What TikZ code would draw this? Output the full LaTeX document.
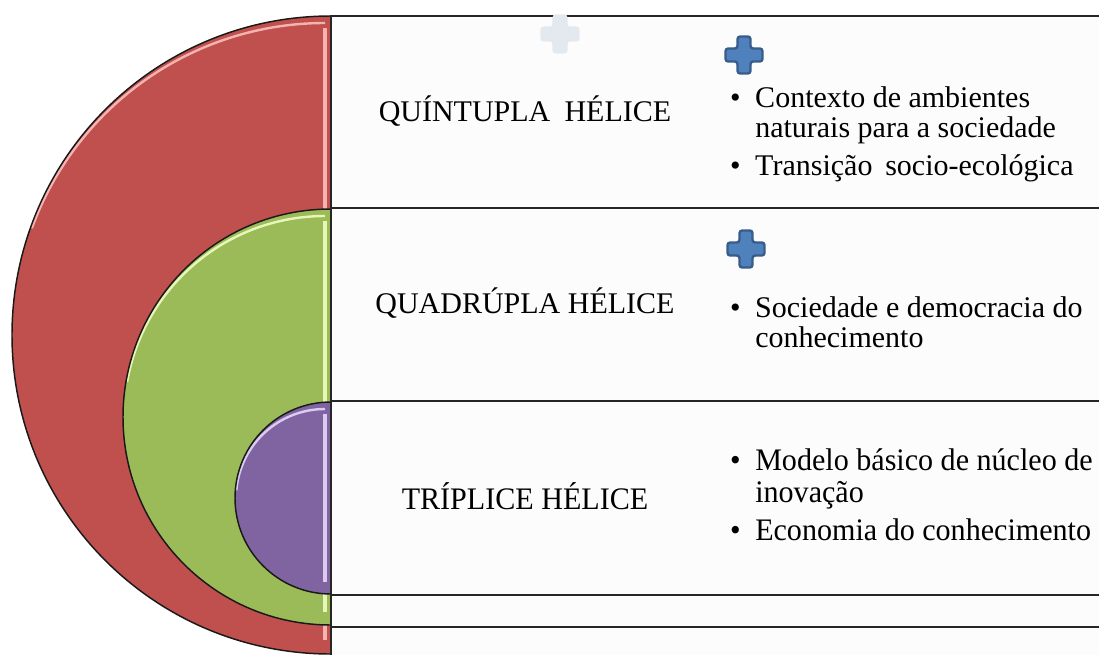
\documentclass[tikz,border=0pt]{standalone}
\usepackage{fontspec}
\setmainfont{Liberation Serif}
\newfontfamily\narrowserif[FakeStretch=0.96]{Liberation Serif}
\definecolor{helixred}{HTML}{C0504D}
\definecolor{helixgreen}{HTML}{9BBB59}
\definecolor{helixpurple}{HTML}{8064A2}
\definecolor{shinered}{HTML}{F4B3B1}
\definecolor{shinegreen}{HTML}{E6F7B8}
\definecolor{shinepurple}{HTML}{DCCBF0}
\definecolor{plusblue}{HTML}{4F81BD}
\definecolor{plusedge}{HTML}{385D8A}
\definecolor{plusghost}{HTML}{E4E9F0}
\definecolor{panelfill}{HTML}{FCFCFC}

\tikzstyle{panel} = [draw=black!85, line width=1.6pt, fill=panelfill]
\tikzstyle{rim} = [draw=black!90, line width=1.1pt]
\tikzstyle{title} = [font=\fontsize{22.5}{26}\selectfont, inner sep=0pt]
\tikzstyle{item} = [font=\fontsize{22.5}{22.5}\selectfont, anchor=base west, align=left, inner sep=0pt]
\tikzstyle{narrow} = [font=\narrowserif\fontsize{23.5}{23.5}\selectfont]
\newcommand{\bul}{\llap{\textbullet\hspace{11pt}}}
\newcommand{\plusicon}[3]{%
  \draw[rounded corners=2pt, line width=1.8pt, draw=#3, fill=#2]
    (#1) ++(-6.5,-18.5) -- ++(13,0) -- ++(0,12) -- ++(12,0) -- ++(0,13)
    -- ++(-12,0) -- ++(0,12) -- ++(-13,0) -- ++(0,-12) -- ++(-12,0)
    -- ++(0,-13) -- ++(12,0) -- cycle;}

\begin{document}
\begin{tikzpicture}[x=0.75pt, y=-0.75pt]
\useasboundingbox (0,0) rectangle (1099,654);
\clip (0,0) rectangle (1099,654);

% outer ring
\fill[helixred] (331,16) arc[start angle=270, end angle=90, radius=319] -- cycle;
\draw[shinered, line width=1.8pt] (325,23) arc[start angle=270, end angle=200, radius=312];
\draw[shinered, line width=3pt] (325,28) -- (325,640);
\draw[rim] (331,16) arc[start angle=270, end angle=90, radius=319];
\draw[panel] (331,16) rectangle (1115,670);

% middle ring
\fill[helixgreen] (331,209) arc[start angle=270, end angle=90, radius=208] -- cycle;
\draw[shinegreen, line width=1.8pt] (325,216) arc[start angle=270, end angle=190, radius=201];
\draw[shinegreen, line width=3pt] (325,221) -- (325,612);
\draw[rim] (331,209) arc[start angle=270, end angle=90, radius=208];
\draw[panel] (331,208) rectangle (1115,627);

% inner ring
\fill[helixpurple] (331,402) arc[start angle=270, end angle=90, radius=96] -- cycle;
\draw[shinepurple, line width=1.8pt] (325,409) arc[start angle=270, end angle=185, radius=89];
\draw[shinepurple, line width=3pt] (325,414) -- (325,582);
\draw[rim] (331,402) arc[start angle=270, end angle=90, radius=96];
\draw[panel] (331,401) rectangle (1115,595);

% icons
\plusicon{560,34}{plusghost}{plusghost}
\plusicon{744,55}{plusblue}{plusedge}
\plusicon{746,249}{plusblue}{plusedge}

% row titles
\node[title] (quint) at (525,111) {QUÍNTUPLA\hspace{5pt} HÉLICE};
\node[title] (quad) at (525,303) {QUADRÚPLA HÉLICE};
\node[title, narrow] (trip) at (525,496) {TRÍPLICE HÉLICE};

% row items
\node[item] (quintA) at (755,137) {\bul Contexto de ambientes\\naturais para a sociedade};
\node[item] (quintB) at (755,175) {\bul Transição\hspace{4pt} socio-ecológica};
\node[item] (quadA) at (755,347) {\bul Sociedade e democracia do\\conhecimento};
\node[item, narrow] (tripA) at (755,502) {\bul Modelo básico de núcleo de\\inovação};
\node[item, narrow] (tripB) at (755,540) {\bul Economia do conhecimento};
\end{tikzpicture}
\end{document}
